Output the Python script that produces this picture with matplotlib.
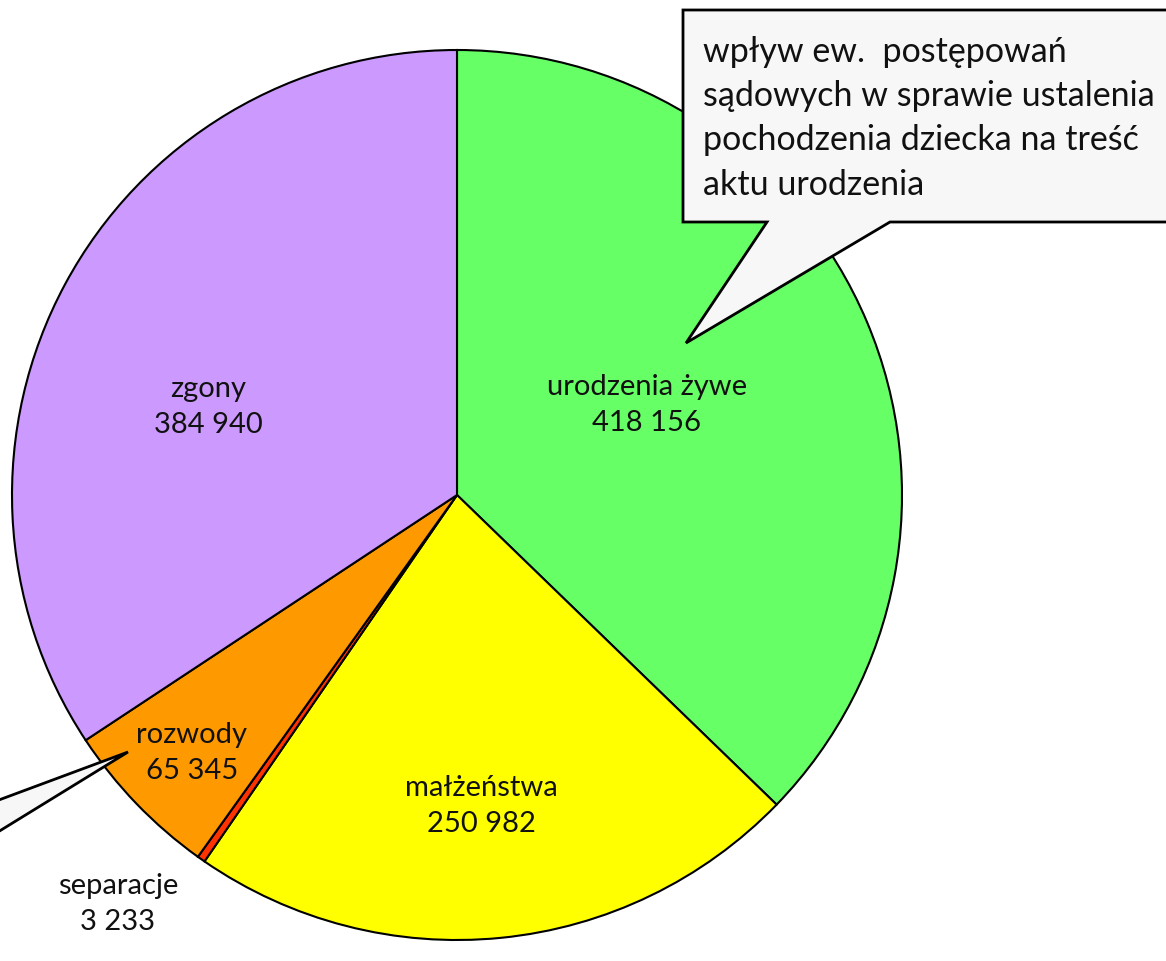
import matplotlib
matplotlib.use("Agg")
import matplotlib.pyplot as plt
from matplotlib.patches import Polygon

plt.rcParams['font.family'] = ['Lato', 'DejaVu Sans']

categories = ["urodzenia żywe", "małżeństwa", "separacje", "rozwody", "zgony"]
values = [418156, 250982, 3233, 65345, 384940]
value_labels = ["418 156", "250 982", "3 233", "65 345", "384 940"]
colors = ["#66FF66", "#FFFF00", "#FF3300", "#FF9900", "#CC99FF"]
callout_lines = ["wpływ ew.  postępowań", "sądowych w sprawie ustalenia",
                 "pochodzenia dziecka na treść", "aktu urodzenia"]

W, H = 1166, 961
fig = plt.figure(figsize=(W / 100, H / 100), dpi=100)
ax = fig.add_axes([0, 0, 1, 1])

def Y(y):
    return H - y

cx, cy, r = 457, 495, 445
ax.pie(values, colors=colors, startangle=90, counterclock=False,
       center=(cx, Y(cy)), radius=r, frame=True,
       wedgeprops=dict(edgecolor='black', linewidth=1.5))
ax.set_xlim(0, W)
ax.set_ylim(0, H)
ax.set_aspect('equal')
ax.axis('off')

label_pos = [(647, 405), (481, 806), (118, 904), (192, 753), (208, 407)]
for name, val, (x, y) in zip(categories, value_labels, label_pos):
    ax.text(x, Y(y), name + "\n" + val, ha='center', va='center',
            fontsize=21, linespacing=1.45, color='#111111')

# callout top-right
pts = [(683, 10), (1175, 10), (1175, 222), (890, 222), (686, 343), (767, 222), (683, 222)]
ax.add_patch(Polygon([(x, Y(y)) for x, y in pts], closed=True,
                     facecolor='#F7F7F7', edgecolor='black', linewidth=2, zorder=5))
line_y = [52, 96, 140, 185]
for t, y in zip(callout_lines, line_y):
    ax.text(703, Y(y), t, ha='left', va='center', fontsize=24.5, color='#111111', zorder=6)

# callout bottom-left (box off-canvas)
pts2 = [(-20, 807), (128, 752), (-20, 843)]
ax.add_patch(Polygon([(x, Y(y)) for x, y in pts2], closed=True,
                     facecolor='#F7F7F7', edgecolor='black', linewidth=2, zorder=5))

fig.savefig("out.png", dpi=100)
